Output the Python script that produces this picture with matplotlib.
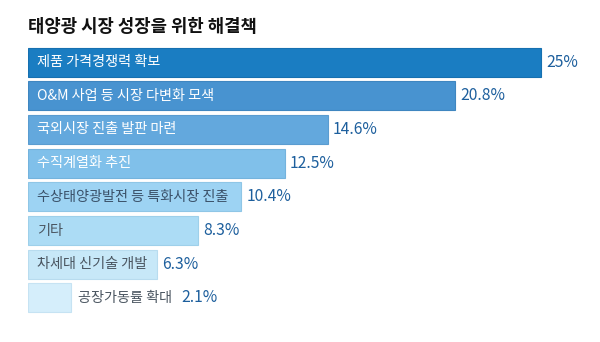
import matplotlib
matplotlib.use("Agg")
import matplotlib.pyplot as plt

plt.rcParams['font.family'] = ['Noto Sans CJK KR', 'DejaVu Sans']

title = '태양광 시장 성장을 위한 해결책'
labels = ['제품 가격경쟁력 확보', 'O&M 사업 등 시장 다변화 모색', '국외시장 진출 발판 마련',
          '수직계열화 추진', '수상태양광발전 등 특화시장 진출', '기타', '차세대 신기술 개발',
          '공장가동률 확대']
values = [25, 20.8, 14.6, 12.5, 10.4, 8.3, 6.3, 2.1]
value_texts = ['25%', '20.8%', '14.6%', '12.5%', '10.4%', '8.3%', '6.3%', '2.1%']
colors = ['#1a7dc2', '#4893d0', '#63a8dd', '#80c0ea', '#9dd3f3', '#acdcf5', '#c7e8f8', '#d5eefb']
edges = ['#1670b0', '#3f86c0', '#5a9cd0', '#74b3dd', '#8fc6e6', '#9ed0ea', '#b8dcef', '#c6e3f3']
text_colors = ['white', 'white', 'white', 'white', '#3a5068', '#4a5560', '#4a5560', '#4a5560']

fig = plt.figure(figsize=(6, 3.42), dpi=100)
ax = fig.add_axes([28 / 600, 0, 572 / 600, 1])
ax.set_xlim(0, 572 / 20.52)
ax.set_ylim(7 + 44 / 33.71, -62 / 33.71)
ax.axis('off')

ypos = list(range(len(values)))
ax.barh(ypos, values, height=0.86, color=colors, edgecolor=edges, linewidth=0.8)

fig.canvas.draw()
renderer = fig.canvas.get_renderer()
for i, (lab, v, vt) in enumerate(zip(labels, values, value_texts)):
    if v > 5:
        ax.text(0.45, i, lab, va='center', ha='left', fontsize=10.2, color=text_colors[i])
        end = v
    else:
        t = ax.text(v + 0.35, i, lab, va='center', ha='left', fontsize=10.2, color=text_colors[i])
        bb = t.get_window_extent(renderer).transformed(ax.transData.inverted())
        end = bb.x1 + 0.2
    ax.text(end + 0.25, i, vt, va='center', ha='left', fontsize=11.3, color='#1d5f9d')

fig.text(28 / 600, 1 - 27 / 342, title, fontsize=12.8, fontweight='bold', va='center', ha='left',
         color='#111111')

fig.savefig('out.png', dpi=100)
